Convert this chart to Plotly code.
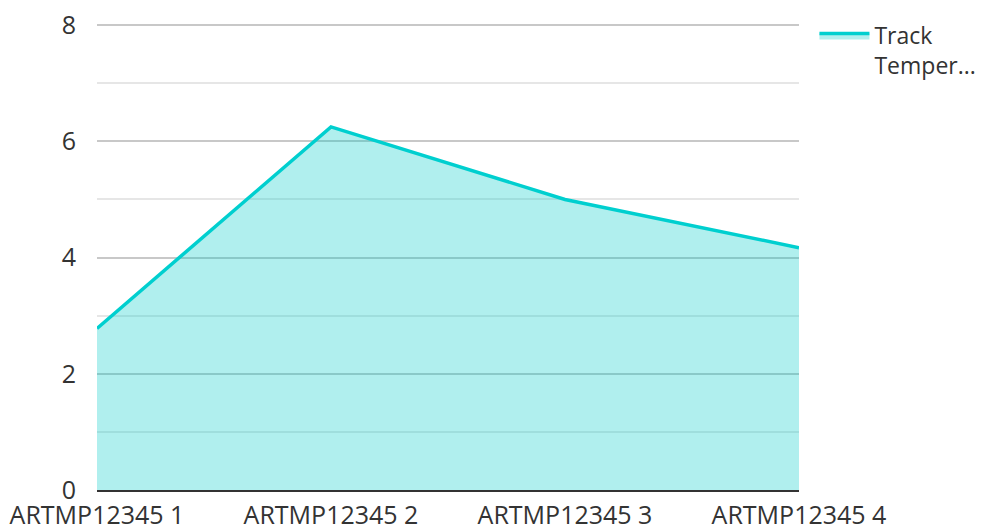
import plotly.graph_objects as go

categories = ["ARTMP12345 1", "ARTMP12345 2", "ARTMP12345 3", "ARTMP12345 4"]
track_temperature = [2.78, 6.25, 5.0, 4.17]
series_name = "Track<br>Temper..."
y_ticks = [0, 2, 4, 6, 8]

# the page body has an 8px default margin, so offsets are compensated
fig = go.Figure()
fig.add_trace(go.Scatter(
    x=categories, y=track_temperature, name=series_name,
    mode="lines", fill="tozeroy",
    line=dict(color="#00cfcf", width=3.5),
    fillcolor="rgba(0,203,200,0.31)",
))

fig.update_layout(
    width=989, height=532,
    margin=dict(l=89, r=198, t=16, b=50, autoexpand=False),
    paper_bgcolor="white", plot_bgcolor="white",
    font=dict(family="Open Sans", size=25, color="#333333"),
    showlegend=True,
    legend=dict(x=1.022, y=1.0215, xanchor="left", yanchor="top", valign="top",
                font=dict(size=23, color="#333333"), itemwidth=50,
                tracegroupgap=0),
    xaxis=dict(range=[0, 3], showgrid=False, showline=True, linecolor="#333333",
               linewidth=2, zeroline=False, layer="above traces",
               ticks="", ticklabelstandoff=2, ticklabeloverflow="allow",
               tickfont=dict(size=25)),
    yaxis=dict(range=[0, 8.02], tickvals=y_ticks, showgrid=True, gridcolor="#c8c8c8",
               gridwidth=1.5, zeroline=False, showline=False, ticks="",
               ticklabelstandoff=20, ticklabeloverflow="allow",
               minor=dict(dtick=1, showgrid=True, gridcolor="#e6e6e6", gridwidth=1.5),
               tickfont=dict(size=25)),
)

fig.write_html("out.html")
